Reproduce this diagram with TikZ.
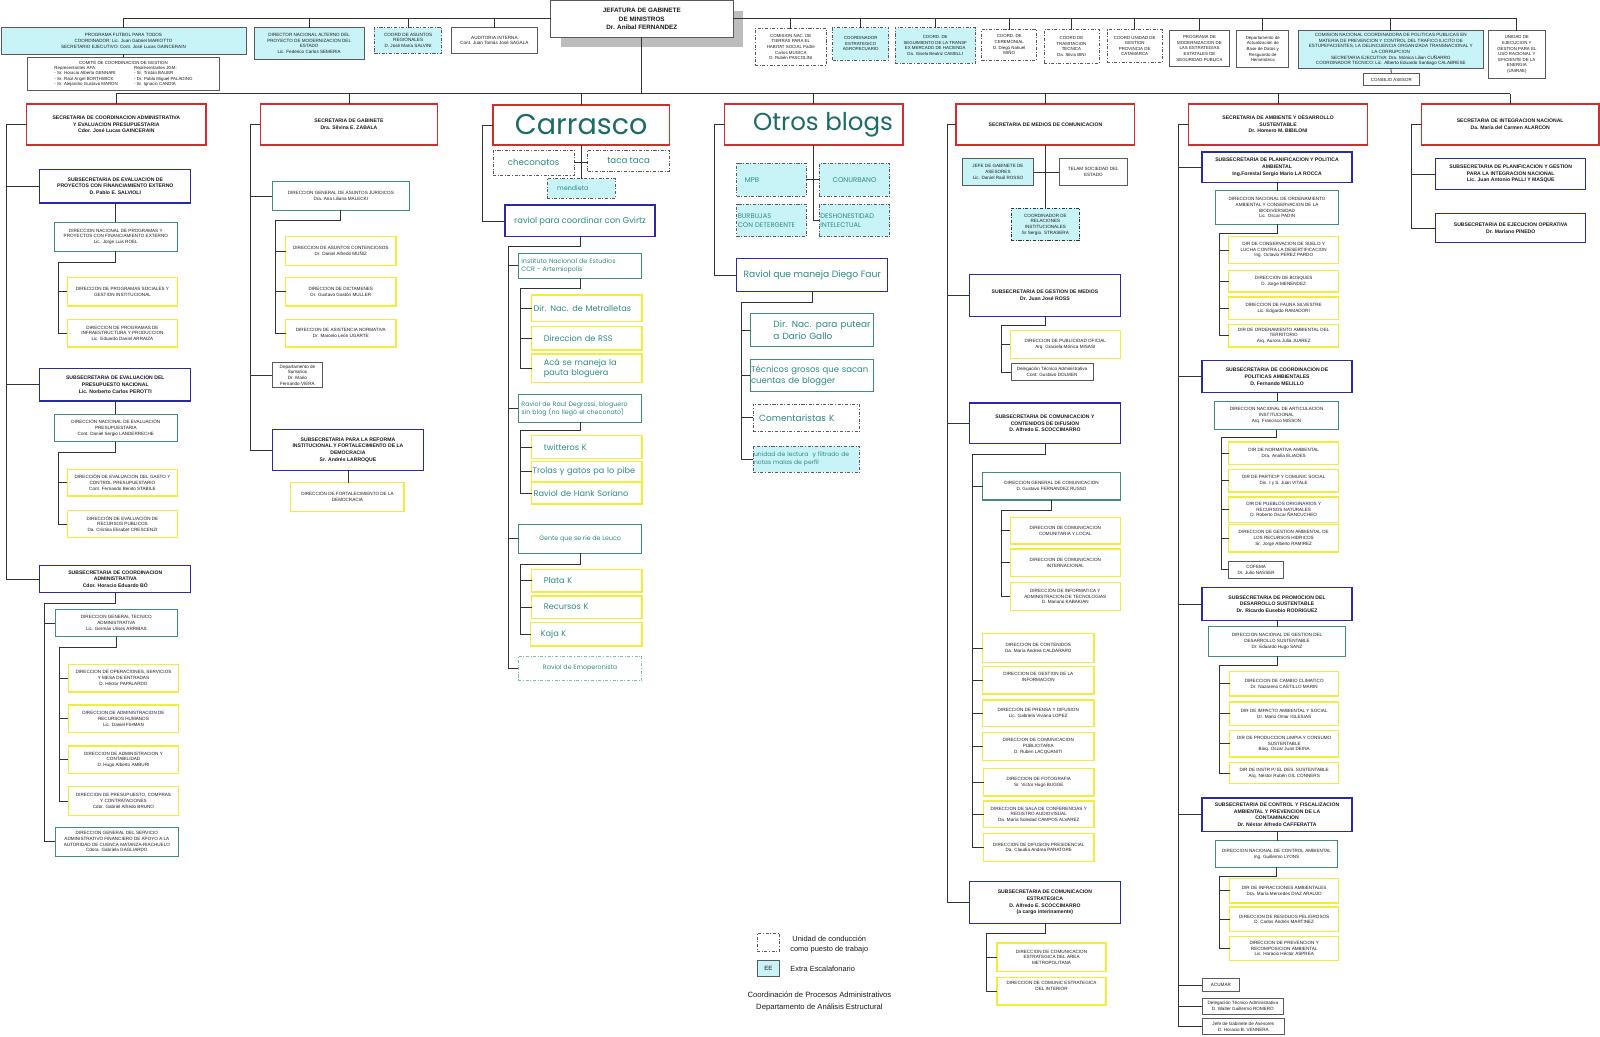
\documentclass[tikz,border=0pt]{standalone}
\usepackage{fontspec}
\setmainfont{Liberation Sans}
\newfontfamily\blogf{Poppins}
\usetikzlibrary{shadows}
\definecolor{cRed}{HTML}{D42B2B}
\definecolor{cBlu}{HTML}{2A2AA8}
\definecolor{cGrn}{HTML}{3F8F72}
\definecolor{cYel}{HTML}{F0EE3A}
\definecolor{cGry}{HTML}{5A5A5A}
\definecolor{cCyn}{HTML}{C8F4F7}
\definecolor{cTea}{HTML}{2E8A84}
\definecolor{cTed}{HTML}{1D6B66}
\definecolor{cLin}{HTML}{333333}
\definecolor{cTxt}{HTML}{1A1A1A}
\definecolor{cShd}{HTML}{BDBDBD}
\newcommand\fsA{\fontsize{4.5}{5.6}\selectfont}
\newcommand\fsB{\fontsize{5}{6.6}\selectfont\bfseries}
\newcommand\fsT{\fontsize{4.3}{5.5}\selectfont}
\newcommand\BF[2]{\blogf\fontsize{#1}{#2}\selectfont}
\newcommand\Bx[7]{\node[#1, minimum width={(#5-#3)*1pt}, minimum height={(#6-#4)*1pt}] (#2) at ({(#3+#5)/2},{(#4+#6)/2}) {#7};}
\newcommand\Bl[8][2]{\pgfmathsetmacro\bxw{#6-#4-2*#1}\node[#2, align=left, text width=\bxw pt, inner xsep=#1pt, minimum width={(#6-#4)*1pt}, minimum height={(#7-#5)*1pt}] (#3) at ({(#4+#6)/2},{(#5+#7)/2}) {#8};}
\begin{document}
\begin{tikzpicture}[x=1pt,y=-1pt,
 ln/.style={draw=cLin, line width=0.8pt},
 bx/.style={draw, fill=white, inner sep=0.5pt, align=center, text=cTxt, outer sep=0pt},
 sec/.style={bx, draw=cRed, line width=1.3pt, font=\fsB},
 sub/.style={bx, draw=cBlu, line width=1.2pt, font=\fsB},
 grn/.style={bx, draw=cGrn, line width=1pt, font=\fsA},
 yel/.style={bx, draw=cYel, line width=1.3pt, font=\fsA},
 wht/.style={bx, draw=cGry, line width=0.7pt, font=\fsA},
 cya/.style={fill=cCyn},
 dd/.style={dash pattern=on 3pt off 1.6pt on 0.9pt off 1.6pt},
 jefs/.style={bx, draw=cGry, double=white, double distance=0.8pt, line width=0.5pt, font=\fontsize{6.2}{8.4}\selectfont\bfseries, general shadow={fill=cShd, shadow xshift=10pt, shadow yshift=-10pt}},
 bt/.style={text=cTea}]
\useasboundingbox (0,0) rectangle (1568,1016);
\fill[white] (0,0) rectangle (1568,1016);

% ---------- top ----------
\Bx{jefs}{jef}{540}{1}{718}{36}{JEFATURA DE GABINETE\\DE MINISTROS\\Dr. Anibal FERNANDEZ}

\Bx{wht,cya}{pf}{1}{27}{241}{53}{PROGRAMA FUTBOL PARA TODOS\\COORDINADOR: Lic. Juan Gabriel MARIOTTO\\SECRETARIO EJECUTIVO: Cont. José Lucas GAINCERAIN}
\Bx{wht,font=\fsT}{com}{27}{56}{215}{89}{COMITÉ DE COORDINACION DE GESTION\\\begin{tabular}{@{}l@{\hspace{16pt}}l@{}}Representantes AFA: & Representantes JGM:\\ - Sr. Horacio Alberto GENNARI & - Sr. Tristán BAUER\\ - Sr. Raúl Angel BORTHWICK & - Dr. Pablo Miguel PALADINO\\ - Sr. Alejandro Gustavo MARON & - Sr. Ignacio CANDIA\end{tabular}}
\Bx{wht,cya}{dna}{249}{27}{357}{58}{DIRECTOR NACIONAL ALTERNO DEL\\PROYECTO DE MODERNIZACION DEL\\ESTADO\\Lic. Federico Carlos SEMERIA}
\Bx{wht,cya,dd}{car}{367}{27}{433}{52}{COORD DE ASUNTOS\\REGIONALES\\D. José María SALVINI}
\Bx{wht}{aud}{442}{27}{527}{52}{AUDITORIA INTERNA\\Cont. Juan Tomás José SAGALA}

\Bx{wht,dd,font=\fsT}{t1}{740}{28}{810}{64}{COMISION NAC. DE\\TIERRAS PARA EL\\HABITAT SOCIAL Padre\\Carlos MUGICA\\D. Rubén PASCOLINI}
\Bx{wht,dd,cya,font=\fsT}{t2}{816}{27}{871}{59}{COORDINADOR\\ESTRATEGICO\\AGROPECUARIO}
\Bx{wht,dd,cya,font=\fsT}{t3}{877}{27}{956}{62}{COORD. DE\\SEGUIMIENTO DE LA TRANSF\\EX MERCADO DE HACIENDA\\Da. Gisela Beatriz CAMELLI}
\Bx{wht,dd,font=\fsT}{t4}{962}{29}{1016}{59}{COORD. DE\\CEREMONIAL\\D. Diego Nahuel\\MIÑO}
\Bx{wht,dd,font=\fsT}{t5}{1023}{29}{1077}{62}{COORD DE\\TRAMITACION\\TECNICA\\Da. Silvia BINI}
\Bx{wht,dd,font=\fsT}{t6}{1085}{29}{1139}{61}{COORD UNIDAD DE\\GESTION\\PROVINCIA DE\\CATAMARCA}
\Bx{wht,line width=1.1pt,font=\fsT}{t7}{1146}{30}{1205}{65}{PROGRAMA DE\\MODERNIZACION DE\\LAS ESTRATEGIAS\\ESTATALES DE\\SEGURIDAD PUBLICA}
\Bx{wht,font=\fsT}{t8}{1212}{30}{1263}{66}{Departamento de\\Actualización de\\Base de Datos y\\Resguardo de\\Hemeroteca}
\Bx{wht,cya,font=\fontsize{4.5}{5.6}\selectfont}{t9}{1272}{30}{1454}{67}{COMISION NACIONAL COORDINADORA DE POLITICAS PUBLICAS EN\\MATERIA DE PREVENCION Y CONTROL DEL TRAFICO ILICITO DE\\ESTUPEFACIENTES, LA DELINCUENCIA ORGANIZADA TRANSNACIONAL Y\\LA CORRUPCION\\SECRETARIA EJECUTIVA: Dra. Mónica Lilian CUÑARRO\\COORDINADOR TECNICO: Lic. Alberto Eduardo Santiago CALABRESE}
\Bx{wht,font=\fsT}{t10}{1336}{72}{1391}{84}{CONSEJO ASESOR}
\Bx{wht,font=\fsT}{t11}{1459}{30}{1514}{77}{UNIDAD DE\\EJECUCION Y\\GESTION  PARA EL\\USO RACIONAL Y\\EFICIENTE DE LA\\ENERGIA\\(UNIRAE)}

% ---------- secretarias ----------
\Bx{sec}{s1}{26}{102}{202}{142}{SECRETARIA DE COORDINACION ADMINISTRATIVA\\Y EVALUACION PRESUPUESTARIA\\Cdor. José Lucas GAINCERAIN}
\Bx{sec}{s2}{255}{102}{429}{142}{SECRETARIA DE GABINETE\\Dra. Silvina E. ZABALA}
\Bx{sec,font={\BF{28}{30}},text=cTed}{s3}{483}{103}{656}{142}{Carrasco}
\Bx{sec,font={\BF{24}{30}},text=cTed}{s4}{710}{102}{885}{142}{\hspace*{18pt}Otros blogs}
\Bx{sec}{s5}{937}{102}{1112}{142}{SECRETARIA DE MEDIOS DE COMUNICACION}
\Bx{sec}{s6}{1165}{102}{1340}{142}{SECRETARIA DE AMBIENTE Y DESARROLLO\\SUSTENTABLE\\Dr. Homero M. BIBILONI}
\Bx{sec}{s7}{1393}{102}{1567}{142}{SECRETARIA DE INTEGRACION NACIONAL\\Da. María del Carmen ALARCON}

% ---------- column 1 ----------
\Bx{sub}{sub1}{39}{166}{187}{199}{SUBSECRETARIA DE EVALUACION DE\\PROYECTOS CON FINANCIAMIENTO EXTERNO\\D. Pablo E. SALVIOLI}
\Bx{grn}{g11}{53}{218}{174}{246}{DIRECCION NACIONAL DE PROGRAMAS Y\\PROYECTOS CON FINANCIAMIENTO EXTERNO\\Lic. Jorge Luis ROEL}
\Bx{yel}{y11}{66}{272}{174}{300}{DIRECCION DE PROGRAMAS SOCIALES Y\\GESTION INSTITUCIONAL}
\Bx{yel}{y12}{66}{313}{174}{340}{DIRECCION DE PROGRAMAS DE\\INFRAESTRUCTURA Y PRODUCCION\\Lic. Eduardo Daniel ARRAIZA}
\Bx{sub}{sub2}{39}{361}{187}{393}{SUBSECRETARIA DE EVALUACION DEL\\PRESUPUESTO NACIONAL\\Lic. Norberto Carlos PEROTTI}
\Bx{grn}{g12}{53}{406}{174}{433}{DIRECCIÓN NACIONAL DE EVALUACIÓN\\PRESUPUESTARIA\\Cont. Daniel Sergio LANDERRECHE}
\Bx{yel}{y13}{66}{460}{174}{486}{DIRECCIÓN DE EVALUACION DEL GASTO Y\\CONTROL PRESUPUESTARIO\\Cont. Fernando Benito STABILE}
\Bx{yel}{y14}{66}{500}{174}{527}{DIRECCIÓN DE EVALUACIÓN DE\\RECURSOS PUBLICOS\\Da. Cristina Elisabet CRESCENZI}
\Bx{sub}{sub3}{39}{554}{187}{581}{SUBSECRETARIA DE COORDINACION\\ADMINISTRATIVA\\Cdor. Horacio Eduardo BÓ}
\Bx{grn}{g13}{54}{597}{174}{624}{DIRECCION GENERAL TECNICO\\ADMINISTRATIVA\\Lic. Germán Ulises ARRIBAS}
\Bx{yel}{y15}{67}{651}{175}{678}{DIRECCION DE OPERACIONES, SERVICIOS\\Y MESA DE ENTRADAS\\D. Héctor PAPALARDO}
\Bx{yel}{y16}{67}{691}{175}{718}{DIRECCION DE ADMINISTRACION DE\\RECURSOS HUMANOS\\Lic. Daniel FIHMAN}
\Bx{yel}{y17}{67}{731}{175}{758}{DIRECCION  DE ADMINISTRACION Y\\CONTABILIDAD\\D. Hugo Alberto AMBURI}
\Bx{yel}{y18}{67}{771}{175}{799}{DIRECCION DE PRESUPUESTO, COMPRAS\\Y CONTRATACIONES\\Cdor. Gabriel Alfredo BRUNO}
\Bx{grn}{g14}{54}{811}{175}{839}{DIRECCION GENERAL DEL SERVICIO\\ADMINISTRATIVO FINANCIERO DE APOYO A LA\\AUTORIDAD DE CUENCA MATANZA-RIACHUELO\\Cdora. Gabriela GAGLIARDO}

% ---------- column 2 ----------
\Bx{grn}{g21}{267}{178}{401}{206}{DIRECCION GENERAL DE ASUNTOS JURIDICOS\\Dra. Ana Liliana MALECKI}
\Bx{yel}{y21}{280}{232}{388}{260}{DIRECCION DE ASUNTOS CONTENCIOSOS\\Dr. Daniel Alfredo MUÑIZ}
\Bx{yel}{y22}{280}{272}{388}{300}{DIRECCION DE DICTAMENES\\Dr. Gustavo Gastón MULLER}
\Bx{yel}{y23}{280}{313}{388}{340}{DIRECCION DE ASISTENCIA NORMATIVA\\Dr. Marcelo León UGARTE}
\Bx{wht}{w21}{267}{355}{316}{380}{Departamento de\\Sumarios\\Dr. Mario\\Fernando VIERA}
\Bx{sub}{sub21}{267}{421}{415}{461}{SUBSECRETARIA PARA LA REFORMA\\INSTITUCIONAL Y FORTALECIMIENTO DE LA\\DEMOCRACIA\\Sr. Andrés LARROQUE}
\Bx{yel}{y24}{285}{473}{396}{501}{DIRECCION DE FORTALECIMIENTO DE LA\\DEMOCRACIA}

% ---------- column 3 (Carrasco) ----------
\Bx{wht,dd,font={\BF{8.5}{10}},bt}{che}{483}{147}{563}{172}{checonatos}
\Bx{wht,dd,font={\BF{8.5}{10}},bt}{tac}{576}{147}{656}{168}{taca taca}
\Bl[10]{wht,dd,cya,font={\BF{6.3}{7.5}},bt}{men}{536}{175}{603}{194}{mendieta}
\Bx{sub,font={\BF{8.2}{10}},bt}{rav}{495}{201}{642}{232}{raviol para coordinar con Gvirtz}
\Bl[3]{grn,font={\BF{6.2}{8}},bt}{i1}{508}{248}{629}{273}{Instituto Nacional de Estudios\\CCR - Artemiopolis}
\Bl[2]{yel,font={\BF{8}{10}},bt}{d1}{521}{289}{629}{315}{Dir. Nac. de Metralletas}
\Bl[12]{yel,font={\BF{8}{10}},bt}{d2}{521}{320}{629}{343}{Direccion de RSS}
\Bl[12]{yel,font={\BF{8}{10}},bt}{d3}{521}{347}{629}{375}{Acá se maneja la\\pauta bloguera}
\Bl[3]{grn,font={\BF{6.2}{8}},bt}{i2}{508}{387}{629}{414}{Raviol de Raul Degrossi, bloguero\\sin blog (no llegó el checonato)}
\Bl[12]{yel,font={\BF{8}{10}},bt}{d4}{521}{427}{629}{449}{twitteros K}
\Bl[1]{yel,font={\BF{8}{10}},bt}{d5}{521}{452}{629}{472}{Trolas y gatos pa lo pibe}
\Bl[2]{yel,font={\BF{8}{10}},bt}{d6}{521}{473}{629}{494}{Raviol de Hank Soriano}
\Bx{grn,font={\BF{6.2}{8}},bt}{i3}{508}{514}{629}{542}{Gente que se rie de Leuco}
\Bl[12]{yel,font={\BF{8}{10}},bt}{d7}{521}{558}{629}{580}{Plata K}
\Bl[12]{yel,font={\BF{8}{10}},bt}{d8}{521}{584}{629}{606}{Recursos K}
\Bl[10]{yel,font={\BF{8}{10}},bt}{d9}{520}{610}{629}{633}{Kaja K}
\Bx{bx,dd,draw=cTea!60,line width=0.9pt,font={\BF{6.2}{8}},bt}{emo}{508}{643}{629}{667}{Raviol de Emoperonista}

% ---------- column 4 (Otros blogs) ----------
\Bl[8]{wht,dd,cya,font={\BF{6.8}{8.5}},bt}{mpb}{722}{160}{790}{192}{MPB}
\Bx{wht,dd,cya,font={\BF{6.8}{8.5}},bt}{con}{803}{160}{872}{192}{CONURBANO}
\Bl[1]{wht,dd,cya,font={\BF{6.6}{8.5}},bt}{bur}{722}{200}{790}{232}{BURBUJAS\\CON DETERGENTE}
\Bl[1]{wht,dd,cya,font={\BF{6.6}{8.5}},bt}{des}{803}{200}{872}{232}{DESHONESTIDAD\\INTELECTUAL}
\Bx{sub,font={\BF{9}{11}},bt}{rdf}{722}{253}{870}{286}{Raviol que maneja Diego Faur}
\Bl[2]{grn,font={\BF{8.8}{11}},bt}{p1}{735}{307}{856}{340}{\hspace*{21pt}Dir. Nac. para putear\\\hspace*{21pt}a Dario Gallo}
\Bl[1]{grn,font={\BF{8.3}{11}},bt}{p2}{735}{352}{856}{384}{Técnicos grosos que sacan\\cuentas de blogger}
\Bl[6]{wht,dd,font={\BF{8.8}{11}},bt}{p3}{738}{396}{842}{423}{Comentaristas K}
\Bl[1]{wht,dd,cya,font={\BF{5.9}{7.5}},bt}{ul}{738}{437}{842}{463}{unidad de lectura\ \ y filtrado de\\notas malas de perfil}

% ---------- column 5 ----------
\Bx{wht,cya}{jg}{943}{155}{1013}{182}{JEFE DE GABINETE DE\\ASESORES\\Lic. Daniel Raúl ROSSO}
\Bx{wht}{tel}{1038}{155}{1105}{182}{TELAM SOCIEDAD DEL\\ESTADO}
\Bx{wht,dd,cya,draw=cLin,line width=1.1pt}{co}{991}{204}{1058}{236}{COORDINADOR DE\\RELACIONES\\INSTITUCIONALES\\Sr Sergio. STRASERA}
\Bx{sub}{sub51}{950}{269}{1098}{310}{SUBSECRETARIA DE GESTION DE MEDIOS\\Dr. Juan José ROSS}
\Bx{yel}{y51}{990}{324}{1098}{351}{DIRECCION  DE PUBLICIDAD OFICIAL\\Arq. Graciela Mónica MISASI}
\Bx{wht}{w51}{991}{356}{1071}{373}{Delegación Técnico Administrativa\\Cont. Gustavo DOLMEN}
\Bx{sub}{sub52}{950}{395}{1098}{435}{SUBSECRETARIA DE COMUNICACION Y\\CONTENIDOS DE DIFUSION\\D. Alfredo E. SCOCCIMARRO}
\Bx{grn}{g51}{963}{463}{1098}{490}{DIRECCION GENERAL DE COMUNICACION\\D. Gustavo FERNANDEZ RUSSO}
\Bx{yel}{y52}{990}{507}{1098}{533}{DIRECCION DE COMUNICACION\\COMUNITARIA Y LOCAL}
\Bx{yel}{y53}{990}{538}{1098}{565}{DIRECCION DE COMUNICACION\\INTERNACIONAL}
\Bx{yel}{y54}{990}{571}{1098}{598}{DIRECCION DE INFORMATICA Y\\ADMINISTRACION DE TECNOLOGIAS\\D. Mariano KABAKIAN}
\Bx{yel}{y55}{963}{621}{1072}{649}{DIRECCION DE CONTENIDOS\\Da. María Andrea CALDARARO}
\Bx{yel}{y56}{963}{653}{1072}{680}{DIRECCION DE GESTION DE LA\\INFORMACION\\ }
\Bx{yel}{y57}{963}{686}{1072}{712}{DIRECCION DE PRENSA Y DIFUSION\\Lic. Gabriela Viviana LOPEZ}
\Bx{yel}{y58}{963}{718}{1072}{745}{DIRECCION  DE COMUNICACION\\PUBLICITARIA\\D. Ruben LACQUANITI}
\Bx{yel}{y59}{964}{753}{1072}{780}{DIRECCION DE FOTOGRAFIA\\Sr. Víctor Hugo BUGGE}
\Bx{yel}{y5a}{964}{785}{1072}{811}{DIRECCION DE SALA DE CONFERENCIAS Y\\REGISTRO AUDIOVISUAL\\Da. María Soledad CAMPOS ALVAREZ}
\Bx{yel}{y5b}{964}{817}{1072}{844}{DIRECCION DE DIFUSION PRESIDENCIAL\\Da. Claudia Andrea PARATORE}
\Bx{sub}{sub53}{950}{864}{1098}{905}{SUBSECRETARIA DE COMUNICACION\\ESTRATEGICA\\D. Alfredo E. SCOCCIMARRO\\(a cargo interinamente)}
\Bx{yel}{y5c}{977}{924}{1084}{952}{DIRECCION  DE COMUNICACION\\ESTRATEGICA DEL AREA\\METROPOLITANA}
\Bx{yel}{y5d}{977}{958}{1084}{985}{DIRECCION  DE COMUNIC ESTRATEGICA\\DEL INTERIOR\\ \\ }

% ---------- column 6 ----------
\Bx{sub}{sub61}{1178}{149}{1325}{179}{SUBSECRETARIA DE PLANIFICACION Y POLITICA\\AMBIENTAL\\Ing.Forestal  Sergio Mario LA ROCCA}
\Bx{grn}{g61}{1191}{187}{1312}{220}{DIRECCION NACIONAL DE ORDENAMIENTO\\AMBIENTAL Y CONSERVACION DE LA\\BIODIVERSIDAD\\Lic. Oscar PADIN}
\Bx{yel}{y61}{1204}{232}{1312}{258}{DIR DE CONSERVACION DE SUELO Y\\LUCHA CONTRA LA DESERTIFICACION\\Ing. Octavio PEREZ PARDO}
\Bx{yel}{y62}{1204}{265}{1312}{286}{DIRECCION DE BOSQUES\\D. Jorge MENENDEZ}
\Bx{yel}{y63}{1204}{291}{1312}{313}{DIRECCION DE FAUNA SILVESTRE\\Lic. Edgardo RAMADORI}
\Bx{yel}{y64}{1204}{318}{1312}{340}{DIR DE ORDENAMIENTO AMBIENTAL DEL\\TERRITORIO\\Arq. Aurora Julia JUAREZ}
\Bx{sub}{sub62}{1178}{353}{1325}{385}{SUBSECRETARIA DE COORDINACION DE\\POLITICAS AMBIENTALES\\D. Fernando MELILLO}
\Bx{grn}{g62}{1190}{393}{1312}{421}{DIRECCION NACIONAL DE ARTICULACION\\INSTITUCIONAL\\Arq. Francisco MISSON}
\Bx{yel}{y65}{1204}{433}{1312}{455}{DIR DE NORMATIVA AMBIENTAL\\Dra. Analía ELIADES}
\Bx{yel}{y66}{1204}{460}{1312}{482}{DIR  DE PARTICIP Y COMUNIC SOCIAL\\Dis. I y S. Juan VITALE}
\Bx{yel}{y67}{1204}{487}{1312}{512}{DIR DE PUEBLOS ORIGINARIOS Y\\RECURSOS NATURALES\\D. Roberto Oscar ÑANCUCHEO}
\Bx{yel}{y68}{1204}{514}{1312}{541}{DIRECCION DE GESTION AMBIENTAL DE\\LOS RECURSOS HIDRICOS\\Sr. Jorge Alberto RAMIREZ}
\Bx{wht}{w61}{1204}{550}{1258}{567}{COFEMA\\Dr. Julio NASSER}
\Bx{sub}{sub63}{1178}{576}{1325}{608}{SUBSECRETARIA DE PROMOCION DEL\\DESARROLLO SUSTENTABLE\\Dr. Ricardo Eusebio RODRIGUEZ}
\Bx{grn}{g63}{1184}{614}{1319}{643}{DIRECCION NACIONAL DE GESTION DEL\\DESARROLLO SUSTENTABLE\\Dr. Eduardo Hugo SANZ}
\Bx{yel}{y69}{1205}{658}{1312}{682}{DIRECCION DE CAMBIO CLIMATICO\\Dr. Nazareno CASTILLO MARIN}
\Bx{yel}{y6a}{1205}{688}{1312}{711}{DIR DE IMPACTO AMBIENTAL Y SOCIAL\\Dr. Mario Omar IGLESIAS}
\Bx{yel}{y6b}{1205}{716}{1312}{742}{DIR DE PRODUCCION LIMPIA Y CONSUMO\\SUSTENTABLE\\Bioq. Oscar Juan DEINA}
\Bx{yel}{y6c}{1205}{747}{1312}{768}{DIR DE INSTR P/ EL DES. SUSTENTABLE\\Arq. Néstor Rubén GIL CONNERS}
\Bx{sub}{sub64}{1178}{782}{1325}{815}{SUBSECRETARIA DE CONTROL Y FISCALIZACION\\AMBIENTAL Y PREVENCION DE LA\\CONTAMINACION\\Dr. Néstor Alfredo CAFFERATTA}
\Bx{grn}{g64}{1191}{824}{1311}{850}{DIRECCION NACIONAL DE CONTROL AMBIENTAL\\Ing. Guillermo LYONS}
\Bx{yel}{y6d}{1205}{861}{1312}{885}{DIR DE INFRACCIONES AMBIENTALES\\Dra. María Mercedes DIAZ ARAUJO}
\Bx{yel}{y6e}{1205}{889}{1312}{913}{DIRECCION DE RESIDUOS PELIGROSOS\\D. Carlos Andrés MARTINEZ}
\Bx{yel}{y6f}{1205}{918}{1312}{941}{DIRECCION  DE PREVENCION Y\\RECOMPOSICION AMBIENTAL\\Lic. Horacio Héctor ASPREA}
\Bx{wht}{w62}{1178}{959}{1215}{972}{ACUMAR}
\Bx{wht}{w63}{1178}{978}{1258}{994}{Delegación Técnico Administrativa\\D. Walter Guillermo ROMERO}
\Bx{wht}{w64}{1178}{998}{1259}{1014}{Jefe de Gabinete de Asesores\\D. Horacio B. VENNERA}

% ---------- column 7 ----------
\Bx{sub}{sub71}{1407}{155}{1554}{186}{SUBSECRETARIA DE PLANIFICACION Y GESTION\\PARA LA INTEGRACION NACIONAL\\Lic. Juan Antonio PALLI Y MASQUE}
\Bx{sub}{sub72}{1407}{209}{1554}{238}{SUBSECRETARIA DE EJECUCION OPERATIVA\\Dr. Mariano PINEDO}

% ---------- legend ----------
\Bx{wht,dd}{lg1}{742}{915}{764}{932}{}
\node[anchor=west, align=center, text=cTxt, font=\fontsize{7.3}{10}\selectfont] (lg1t) at (771,926) {Unidad de conducción\\como puesto de trabajo};
\Bx{wht,cya,font=\fontsize{6}{7}\selectfont}{lg2}{742}{941}{764}{957}{EE}
\node[anchor=west, text=cTxt, font=\fontsize{7.3}{9}\selectfont] (lg2t) at (771,949) {Extra Escalafonario};
\node[align=center, text=cTxt, font=\fontsize{7.5}{11}\selectfont] (foot) at (803,981.5) {Coordinación de Procesos Administrativos\\Departamento de Análisis Estructural};

% ---------- connectors ----------
\coordinate (tlL) at (121,18.5);
\coordinate (trR) at (1486.5,18.5);
\draw[ln] (jef.west) -- (tlL) -- (pf.north);
\draw[ln] (pf.south) -- (com.north);
\foreach \n in {dna,car,aud} \draw[ln] (\n.north) -- (\n.north |- tlL);
\draw[ln] (jef.east) -- (trR) -- (t11.north);
\foreach \n in {t1,t2,t3,t4,t5,t6,t7,t8,t9} \draw[ln] (\n.north) -- (\n.north |- trR);
\draw[ln] (t9.south) -- (t10.north);

\coordinate (mL) at (114,92);
\coordinate (mR) at (1480,92);
\draw[ln] (jef.south) -- (jef.south |- mL);
\draw[ln] (mL) -- (mR);
\foreach \n in {s1,s2,s3,s4,s5,s6,s7} \draw[ln] (\n.north) -- (\n.north |- mL);

% col 1
\coordinate (k1) at (6,122);
\draw[ln] (s1.west) -- (k1) |- (sub3.west);
\foreach \n in {sub1,sub2} \draw[ln] (k1) |- (\n.west);
\draw[ln] (sub1.south) -- (sub1.south |- g11.north);
\coordinate (c11) at (57,257);
\draw[ln] (g11.south) |- (c11) |- (y12.west);
\draw[ln] (c11) |- (y11.west);
\draw[ln] (sub2.south) -- (sub2.south |- g12.north);
\coordinate (c12) at (57,443);
\draw[ln] (g12.south) |- (c12) |- (y14.west);
\draw[ln] (c12) |- (y13.west);
\coordinate (c13) at (44,591);
\draw[ln] (sub3.south) |- (c13) |- (g14.west);
\draw[ln] (c13) |- (g13.west);
\coordinate (c14) at (58,634);
\draw[ln] (g13.south) |- (c14) |- (y18.west);
\foreach \n in {y15,y16,y17} \draw[ln] (c14) |- (\n.west);

% col 2
\coordinate (k2) at (245,122);
\draw[ln] (s2.west) -- (k2) |- (sub21.west);
\foreach \n in {g21,w21} \draw[ln] (k2) |- (\n.west);
\coordinate (c21) at (270,216);
\draw[ln] (g21.south) |- (c21) |- (y23.west);
\foreach \n in {y21,y22} \draw[ln] (c21) |- (\n.west);
\draw[ln] (sub21.south) -- (sub21.south |- y24.north);

% col 3
\coordinate (k3) at (473,122.5);
\draw[ln] (s3.west) -- (k3) |- (rav.west);
\draw[ln] (s3.south) -- (s3.south |- men.north);
\draw[ln] (che.east) -- (che.east -| tac.west);
\coordinate (c31) at (498,241);
\draw[ln] (rav.south) |- (c31) |- (emo.west);
\foreach \n in {i1,i2,i3} \draw[ln] (c31) |- (\n.west);
\coordinate (c32) at (510,283);
\draw[ln] (i1.south) |- (c32) |- (d3.west);
\foreach \n in {d1,d2} \draw[ln] (c32) |- (\n.west);
\coordinate (c33) at (510,422);
\draw[ln] (i2.south) |- (c33) |- (d6.west);
\foreach \n in {d4,d5} \draw[ln] (c33) |- (\n.west);
\coordinate (c34) at (510,553);
\draw[ln] (i3.south) |- (c34) |- (d9.west);
\foreach \n in {d7,d8} \draw[ln] (c34) |- (\n.west);

% col 4
\coordinate (k4) at (700,122);
\draw[ln] (s4.west) -- (k4) |- (rdf.west);
\coordinate (k4b) at (797.5,216);
\draw[ln] (s4.south) -- (k4b) -- (des.west);
\draw[ln] (mpb.east) -- (mpb.east -| con.west);
\coordinate (c41) at (727,296);
\draw[ln] (rdf.south) |- (c41) |- (ul.west);
\foreach \n in {p1,p2,p3} \draw[ln] (c41) |- (\n.west);

% col 5
\coordinate (k5) at (928,122);
\draw[ln] (s5.west) -- (k5) |- (sub53.west);
\foreach \n in {sub51,sub52} \draw[ln] (k5) |- (\n.west);
\draw[ln] (s5.south) -- (s5.south |- co.north);
\draw[ln] (jg.east) -- (jg.east -| tel.west);
\coordinate (c51) at (981,319);
\draw[ln] (sub51.south) |- (c51) |- (w51.west);
\draw[ln] (c51) |- (y51.west);
\coordinate (c52) at (953,445);
\draw[ln] (sub52.south) |- (c52) |- (y5b.west);
\foreach \n in {g51,y55,y56,y57,y58,y59,y5a} \draw[ln] (c52) |- (\n.west);
\coordinate (c53) at (981,500);
\draw[ln] (g51.south) |- (c53) |- (y54.west);
\foreach \n in {y52,y53} \draw[ln] (c53) |- (\n.west);
\coordinate (c54) at (967,915);
\draw[ln] (sub53.south) |- (c54) |- (y5d.west);
\draw[ln] (c54) |- (y5c.west);

% col 6
\coordinate (k6) at (1155,122);
\draw[ln] (s6.west) -- (k6) |- (w64.west);
\foreach \n in {sub61,sub62,sub63,sub64,w62,w63} \draw[ln] (k6) |- (\n.west);
\draw[ln] (sub61.south) -- (sub61.south |- g61.north);
\draw[ln] (sub62.south) -- (sub62.south |- g62.north);
\draw[ln] (sub63.south) -- (sub63.south |- g63.north);
\draw[ln] (sub64.south) -- (sub64.south |- g64.north);
\coordinate (c61) at (1195,229);
\draw[ln] (g61.south) |- (c61) |- (y64.west);
\foreach \n in {y61,y62,y63} \draw[ln] (c61) |- (\n.west);
\coordinate (c62) at (1197,429);
\draw[ln] (g62.south) |- (c62) |- (w61.west);
\foreach \n in {y65,y66,y67,y68} \draw[ln] (c62) |- (\n.west);
\coordinate (c63) at (1195,652);
\draw[ln] (g63.south) |- (c63) |- (y6c.west);
\foreach \n in {y69,y6a,y6b} \draw[ln] (c63) |- (\n.west);
\coordinate (c64) at (1195,859);
\draw[ln] (g64.south) |- (c64) |- (y6f.west);
\foreach \n in {y6d,y6e} \draw[ln] (c64) |- (\n.west);

% col 7
\coordinate (k7) at (1383,122);
\draw[ln] (s7.west) -- (k7) |- (sub72.west);
\draw[ln] (k7) |- (sub71.west);
\end{tikzpicture}
\end{document}
